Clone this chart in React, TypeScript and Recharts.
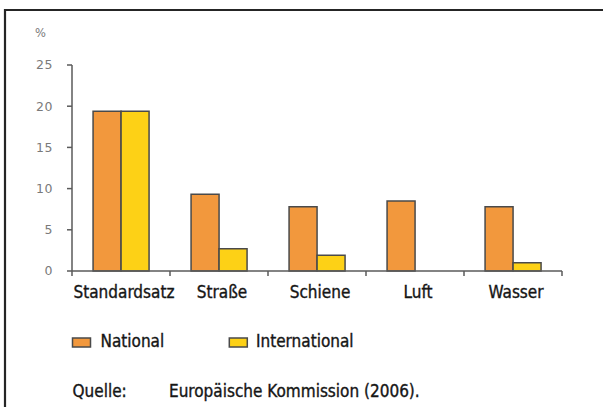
import React from 'react';
import { BarChart, Bar, XAxis, YAxis, Legend } from 'recharts';

const categories = ['Standardsatz', 'Straße', 'Schiene', 'Luft', 'Wasser'];
const nationalValues = [19.4, 9.3, 7.8, 8.5, 7.8];
const internationalValues: (number | null)[] = [19.4, 2.7, 1.9, null, 1.0];
const yTicks = [0, 5, 10, 15, 20, 25];
const seriesNames = ['National', 'International'];
const seriesColors = ['#F2983D', '#FDD116'];
const unitLabel = '%';
const sourceLabel = 'Quelle:';
const sourceText = 'Europäische Kommission (2006).';

const W = 603;
const H = 407;
const M = { top: 65, right: 41, left: 0, bottom: 106 };
const Y_W = 72;
const X_H = 30;
const PLOT_W = W - M.left - M.right - Y_W;
const BAND = PLOT_W / categories.length;
const AXIS_Y = H - M.bottom - X_H;

const data = categories.map((c, i) => ({
  name: c,
  national: nationalValues[i],
  international: internationalValues[i],
}));

const FONT = "'DejaVu Sans Condensed', 'Liberation Sans Narrow', 'DejaVu Sans', sans-serif";
const TEXT_COLOR = '#161616';
const AXIS_COLOR = '#5a5a5a';
const textStyle: React.CSSProperties = { fontFamily: FONT, fontSize: 17, fontStretch: 'condensed' };

const XTick = (props: any) => {
  const { x, payload, index } = props;
  const isLast = index === categories.length - 1;
  return (
    <g>
      <line x1={x - BAND / 2} x2={x - BAND / 2} y1={AXIS_Y} y2={AXIS_Y + 5} stroke={AXIS_COLOR} strokeWidth={1.5} />
      {isLast && (
        <line x1={x + BAND / 2} x2={x + BAND / 2} y1={AXIS_Y} y2={AXIS_Y + 5} stroke={AXIS_COLOR} strokeWidth={1.5} />
      )}
      <text
        x={x + 3}
        y={AXIS_Y + 27}
        textAnchor="middle"
        fill={TEXT_COLOR}
        stroke={TEXT_COLOR}
        strokeWidth={0.35}
        style={textStyle}
      >
        {payload.value}
      </text>
    </g>
  );
};

const legendPos = [
  { rx: 72.5, tx: 100.5 },
  { rx: 229.3, tx: 256 },
];

const renderLegend = () => (
  <svg width={W} height={H} style={{ display: 'block' }}>
    {seriesNames.map((n, i) => (
      <g key={n}>
        <rect x={legendPos[i].rx} y={338} width={18} height={9} fill={seriesColors[i]} stroke="#4a4a4a" strokeWidth={1.5} />
        <text x={legendPos[i].tx} y={346.7} fill={TEXT_COLOR} stroke={TEXT_COLOR} strokeWidth={0.35} style={textStyle}>
          {n}
        </text>
      </g>
    ))}
  </svg>
);

export default function App() {
  return (
    <div style={{ position: 'absolute', left: 0, top: 0, width: W, height: H, overflow: 'hidden', background: '#fff' }}>
      <BarChart width={W} height={H} data={data} margin={M} barCategoryGap="21.5%" barGap={0}>
        <XAxis
          dataKey="name"
          height={X_H}
          tick={<XTick />}
          tickLine={false}
          interval={0}
          axisLine={{ stroke: AXIS_COLOR, strokeWidth: 1.5 }}
        />
        <YAxis
          width={Y_W}
          domain={[0, 25]}
          ticks={yTicks}
          interval={0}
          tickSize={5}
          tickMargin={14}
          axisLine={{ stroke: AXIS_COLOR, strokeWidth: 1.5 }}
          tickLine={{ stroke: AXIS_COLOR, strokeWidth: 1.5 }}
          tick={{ fill: '#7a7a7a', fontSize: 12.5, fontFamily: "'DejaVu Sans', Verdana, sans-serif", letterSpacing: 0.5 }}
        />
        <Legend
          layout="horizontal"
          verticalAlign="middle"
          align="center"
          content={renderLegend}
          wrapperStyle={{ position: 'absolute', left: 0, top: 0, width: W, height: H, pointerEvents: 'none' }}
        />
        <Bar dataKey="national" name={seriesNames[0]} fill={seriesColors[0]} stroke="#4a4a4a" strokeWidth={1.5} isAnimationActive={false} />
        <Bar dataKey="international" name={seriesNames[1]} fill={seriesColors[1]} stroke="#4a4a4a" strokeWidth={1.5} isAnimationActive={false} />
      </BarChart>
      <svg width={W} height={H} style={{ position: 'absolute', left: 0, top: 0, pointerEvents: 'none' }}>
        <line x1={4} x2={W} y1={10} y2={10} stroke="#252525" strokeWidth={2.2} />
        <line x1={5} x2={5} y1={9} y2={H} stroke="#252525" strokeWidth={2.2} />
        <text x={35} y={36.5} fill="#7a7a7a" style={{ fontFamily: "'DejaVu Sans', Verdana, sans-serif", fontSize: 11.5 }}>{unitLabel}</text>
        <text x={72.5} y={397} fill={TEXT_COLOR} stroke={TEXT_COLOR} strokeWidth={0.35} style={textStyle}>{sourceLabel}</text>
        <text x={169} y={397} fill={TEXT_COLOR} stroke={TEXT_COLOR} strokeWidth={0.35} style={textStyle}>{sourceText}</text>
      </svg>
    </div>
  );
}
